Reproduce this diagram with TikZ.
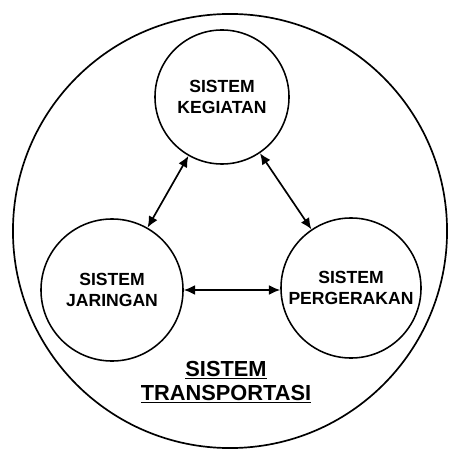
\documentclass[tikz,border=0pt]{standalone}
\usepackage{fontspec}
\setmainfont{Liberation Sans}
\usetikzlibrary{arrows.meta}
\tikzset{
    sistem/.style={circle, draw, line width=1.1pt, align=center, inner sep=0pt,
        font=\fontsize{12.5}{14.5}\selectfont\bfseries},
    panah/.style={{Latex[length=8pt,width=7pt]}-{Latex[length=8pt,width=7pt]}, line width=1.2pt}
}
\begin{document}
\begin{tikzpicture}[x=0.025cm, y=-0.025cm]
    \useasboundingbox (0,0) rectangle (448,451);
    \node[circle, draw, line width=1.2pt, minimum size=10.85cm] (transportasi) at (230,231) {};
    \node[sistem, minimum size=3.35cm] (kegiatan) at (222,97) {SISTEM\\KEGIATAN};
    \node[sistem, minimum size=3.55cm] (jaringan) at (112,290) {SISTEM\\JARINGAN};
    \node[sistem, minimum size=3.5cm] (pergerakan) at (351,288) {SISTEM\\PERGERAKAN};
    \draw[panah] (kegiatan) -- (jaringan);
    \draw[panah] (kegiatan) -- (pergerakan);
    \draw[panah] (jaringan.east) -- (pergerakan.west |- jaringan.east);
    \node[align=center, font=\fontsize{15.5}{17}\selectfont\bfseries] (judul) at (226,382)
        {\underline{SISTEM}\\\underline{TRANSPORTASI}};
\end{tikzpicture}
\end{document}
